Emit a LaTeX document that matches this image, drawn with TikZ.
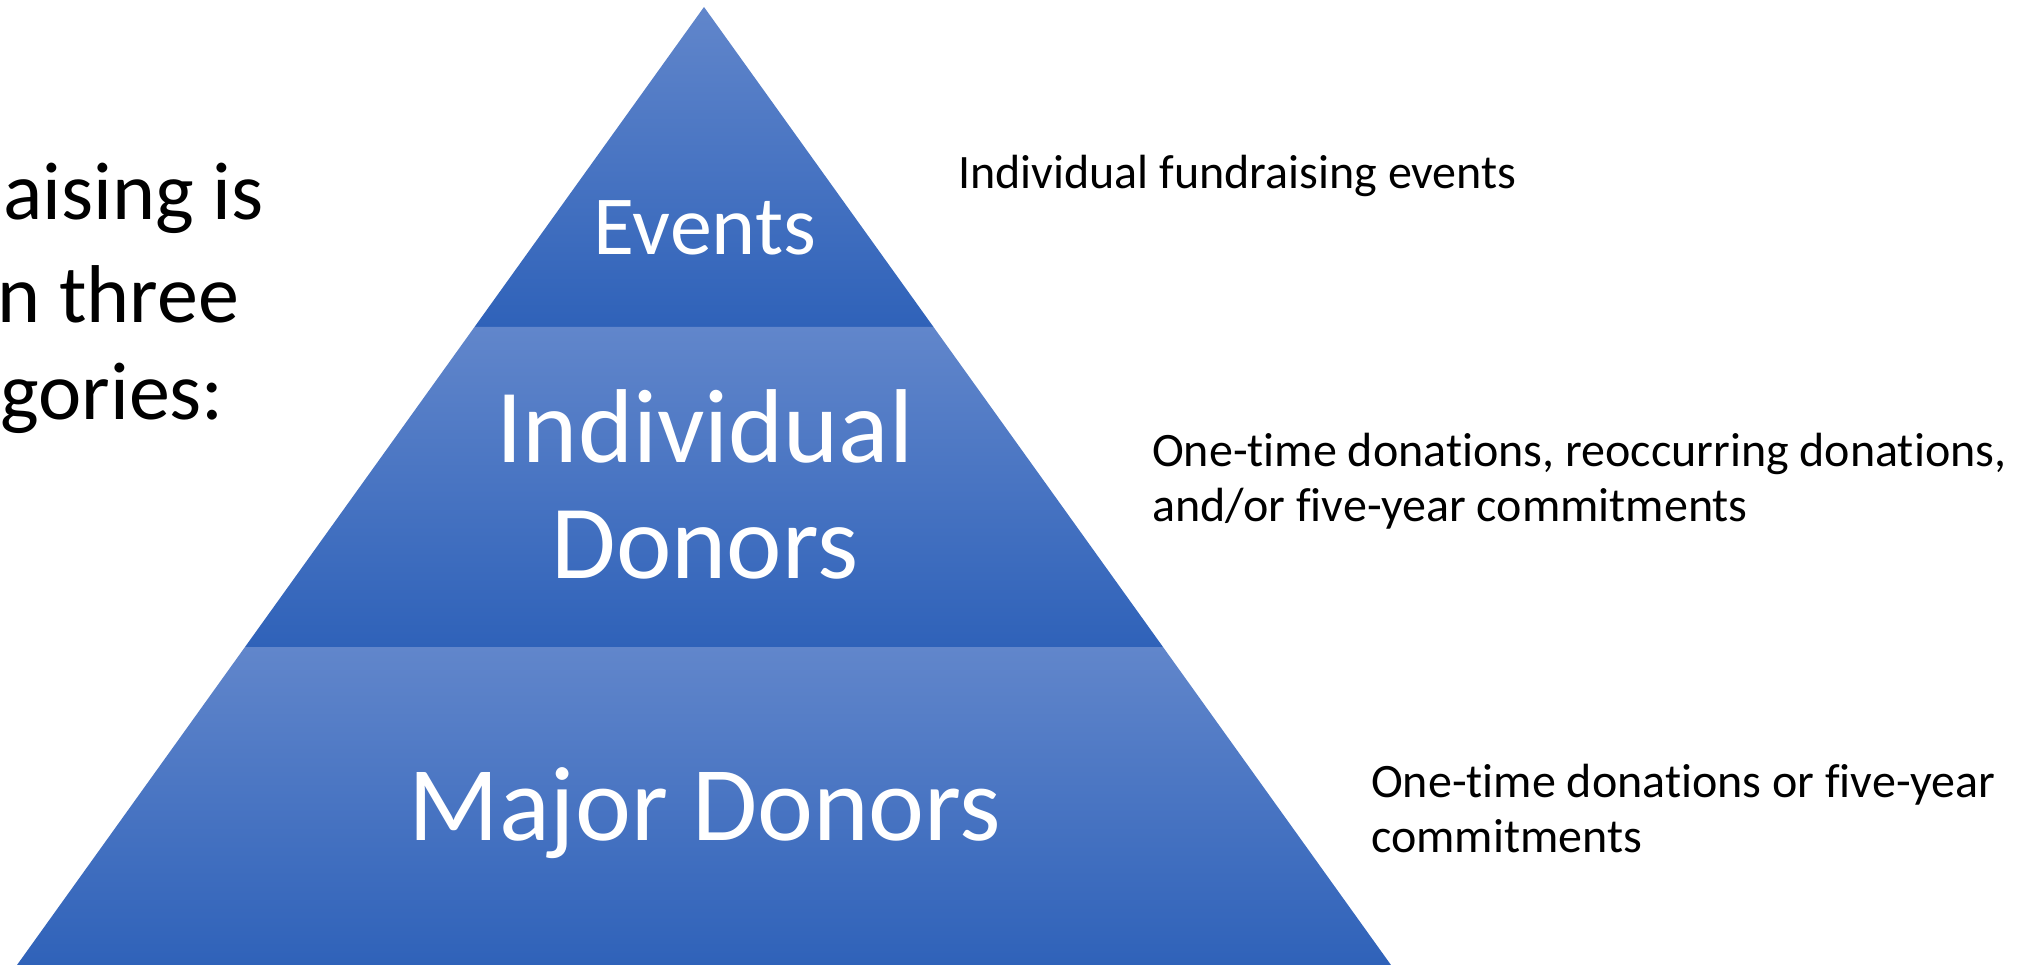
\documentclass[tikz,border=0pt]{standalone}
\usepackage{fontspec}
\setmainfont{Carlito}[Ligatures={NoCommon}]
\definecolor{bandtop}{HTML}{6186CB}
\definecolor{bandmid}{HTML}{4472C4}
\definecolor{bandbot}{HTML}{2F62B9}
\begin{document}
\begin{tikzpicture}[x=1pt,y=-1pt,
  band/.style={top color=bandtop, middle color=bandmid, bottom color=bandbot, draw=none},
  inlbl/.style={text=white, inner sep=0pt, anchor=base},
  sidelbl/.style={text=black, inner sep=0pt, anchor=base west, font=\fontsize{48}{55}\selectfont},
  leftlbl/.style={text=black, inner sep=0pt, anchor=base east, font=\fontsize{82}{100}\selectfont}]
\useasboundingbox (0,0) rectangle (2035,965);
% pyramid corners
\coordinate (apex) at (704,7);
\coordinate (l1) at (474.5,327);
\coordinate (r1) at (933.5,327);
\coordinate (l2) at (245,647);
\coordinate (r2) at (1163,647);
\coordinate (l3) at (16.3,966);
\coordinate (r3) at (1391.7,966);
% bands
\path[band] (apex) -- (r1) -- (l1) -- cycle;
\path[band] (l1) -- (r1) -- (r2) -- (l2) -- cycle;
\path[band] (l2) -- (r2) -- (r3) -- (l3) -- cycle;
% band labels
\node[inlbl, font=\fontsize{84}{100}\selectfont] (events) at (705,255) {Events};
\node[inlbl, font=\fontsize{105}{116}\selectfont] (indiv1) at (705,462) {Individual};
\node[inlbl, font=\fontsize{105}{116}\selectfont] (indiv2) at (705,578) {Donors};
\node[inlbl, font=\fontsize{106}{116}\selectfont] (major) at (705,840) {Major Donors};
% side descriptions
\node[sidelbl] (d1) at (958,189) {Individual fundraising events};
\node[sidelbl] (d2a) at (1152,466) {One-time donations, reoccurring donations,};
\node[sidelbl] (d2b) at (1152,521) {and/or five-year commitments};
\node[sidelbl] (d3a) at (1371,797) {One-time donations or five-year};
\node[sidelbl] (d3b) at (1371,852) {commitments};
% left text (cut off at the edge)
\node[leftlbl] (t1) at (264,220) {aising is};
\node[leftlbl] (t2) at (239,323) {n three};
\node[leftlbl] (t3) at (224,420) {gories:};
\end{tikzpicture}
\end{document}
